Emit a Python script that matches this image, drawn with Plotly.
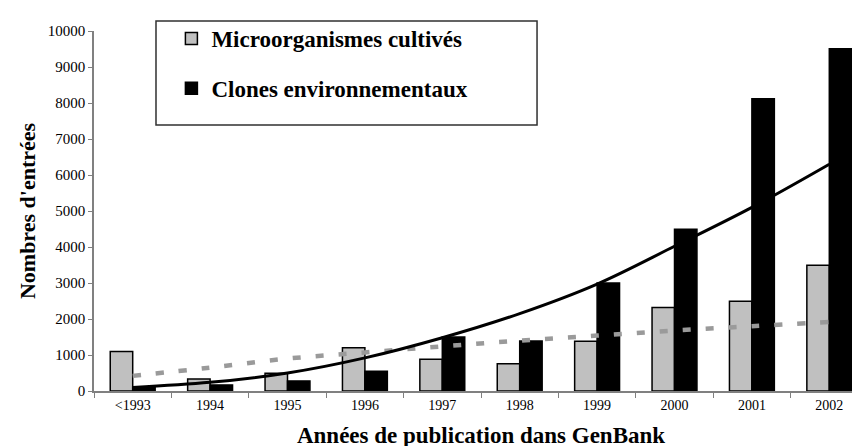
import plotly.graph_objects as go

categories = ["<1993", "1994", "1995", "1996", "1997", "1998", "1999", "2000", "2001", "2002"]
cultives = [1100, 330, 490, 1200, 880, 760, 1380, 2320, 2490, 3490]
clones = [110, 170, 280, 550, 1500, 1390, 3000, 4490, 8120, 9510]
trend_cultives = [420, 650, 900, 1070, 1240, 1400, 1540, 1680, 1800, 1920]
trend_clones = [100, 240, 500, 920, 1480, 2150, 2970, 4020, 5100, 6300]
y_ticks = [0, 1000, 2000, 3000, 4000, 5000, 6000, 7000, 8000, 9000, 10000]

SERIF = "Liberation Serif, Times New Roman, serif"

fig = go.Figure()
fig.add_trace(go.Bar(
    x=categories, y=cultives, name="Microorganismes cultivés",
    marker=dict(color="#c0c0c0", line=dict(color="black", width=1.5)),
    legendgroup="a",
))
fig.add_trace(go.Bar(
    x=categories, y=clones, name="Clones environnementaux",
    marker=dict(color="black", line=dict(color="black", width=1.5)),
    legendgroup="b",
))
fig.add_trace(go.Scatter(
    x=categories, y=trend_cultives, mode="lines", showlegend=False,
    line=dict(color="#9a9a9a", width=4.5, dash="8px,15px", shape="spline"),
))
fig.add_trace(go.Scatter(
    x=categories, y=trend_clones, mode="lines", showlegend=False,
    line=dict(color="black", width=3, shape="spline"),
))

fig.update_layout(
    width=860, height=446,
    margin=dict(l=86, r=0, t=23, b=63),
    paper_bgcolor="white", plot_bgcolor="white",
    barmode="group", bargap=0.42, bargroupgap=0,
    font=dict(family=SERIF, color="black", size=14),
    showlegend=True,
    legend=dict(
        x=0.1000, y=1.039, xanchor="left", yanchor="top",
        bgcolor="rgba(0,0,0,0)", borderwidth=0,
        font=dict(family=SERIF, size=23, color="black", weight="bold"),
        traceorder="grouped", tracegroupgap=17,
    ),
    xaxis=dict(
        showline=True, linecolor="#808080", linewidth=1.5,
        ticks="outside", tickson="boundaries", ticklen=5, tickcolor="#808080",
        tickfont=dict(family=SERIF, size=14, color="black"),
        showgrid=False,
        title=dict(text="Années de publication dans GenBank",
                   font=dict(family=SERIF, size=23, color="black", weight="bold"),
                   standoff=15),
    ),
    yaxis=dict(
        range=[0, 10000], tickvals=y_ticks, tickformat="d",
        showline=True, linecolor="#808080", linewidth=1.5,
        ticks="outside", ticklen=4, tickcolor="#808080",
        tickfont=dict(family=SERIF, size=15, color="black"),
        showgrid=False, zeroline=False,
        title=dict(text="Nombres d'entrées",
                   font=dict(family=SERIF, size=22, color="black", weight="bold"),
                   standoff=6),
    ),
    shapes=[dict(
        type="rect", xref="paper", yref="paper",
        x0=0.0801, x1=0.5724, y0=0.7389, y1=1.0278,
        line=dict(color="#303030", width=1.5), fillcolor="rgba(0,0,0,0)",
        layer="above",
    )],
)

fig.write_html("out.html")
